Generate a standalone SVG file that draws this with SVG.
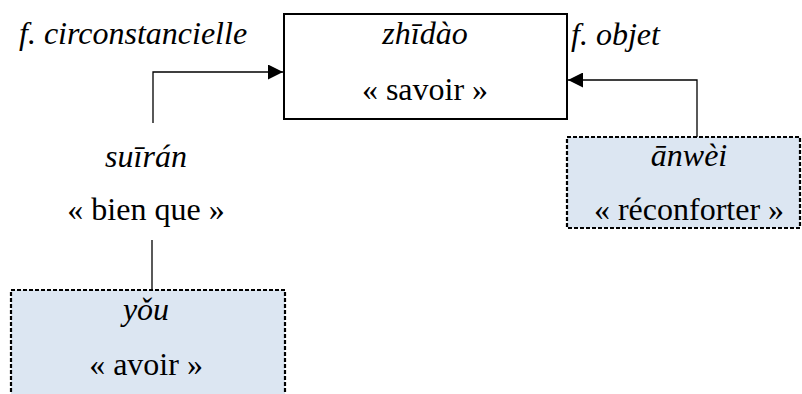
<svg xmlns="http://www.w3.org/2000/svg" width="802" height="394" viewBox="0 0 802 394">
<defs>
<style>
text{font-family:'Liberation Serif','Times New Roman',serif;font-size:32px;fill:#000;text-anchor:middle}
.i{font-style:italic}
.l{text-anchor:start}
.solid{fill:#fff;stroke:#000;stroke-width:2}
.dash{fill:#dce6f2;stroke:#000;stroke-width:2.2;stroke-dasharray:4 2}
.c{fill:none;stroke:#000;stroke-width:1.3}
</style>
<marker id="ah" viewBox="0 0 10 10" refX="10" refY="5" markerWidth="15" markerHeight="15" markerUnits="userSpaceOnUse" orient="auto">
<path d="M0,0 L10,5 L0,10 z" fill="#000"/>
</marker>
</defs>
<rect width="802" height="394" fill="#fff"/>
<g id="connectors">
<path class="c" d="M153,123 V72 H283" marker-end="url(#ah)"/>
<path class="c" d="M697,137 V80 H568" marker-end="url(#ah)"/>
<path class="c" d="M152,240 V290"/>
</g>
<g id="label-circ"><text class="i l" x="19" y="44">f. circonstancielle</text></g>
<g id="label-objet"><text class="i l" x="571" y="45">f. objet</text></g>
<g id="zhidao">
<rect class="solid" x="284" y="14" width="283" height="105"/>
<text class="i" x="425" y="44">zhīdào</text>
<text x="425" y="100">« savoir »</text>
</g>
<g id="suiran">
<text class="i" x="146" y="167">suīrán</text>
<text x="146" y="220">« bien que »</text>
</g>
<g id="anwei">
<rect class="dash" x="567" y="137" width="233" height="91"/>
<text class="i" x="689" y="166">ānwèi</text>
<text x="689" y="220">« réconforter »</text>
</g>
<g id="you">
<rect class="dash" x="11" y="290" width="274" height="110"/>
<text class="i" x="146" y="320">yǒu</text>
<text x="146" y="375">« avoir »</text>
</g>
</svg>
